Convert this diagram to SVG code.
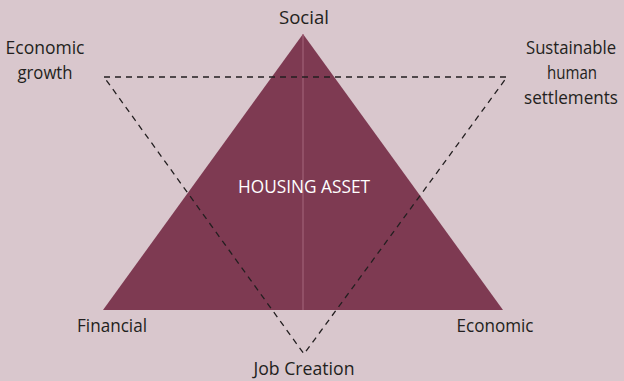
<svg xmlns="http://www.w3.org/2000/svg" width="624" height="381" viewBox="0 0 624 381">
<style>
.lbl{font-family:"Open Sans","Noto Sans","Liberation Sans",sans-serif;font-size:18px;fill:#231f20;text-anchor:middle}
.in{fill:#ffffff}
.dash{fill:none;stroke:#231f20;stroke-width:1.3;stroke-dasharray:6 5}
</style>
<rect width="624" height="381" fill="#d9c7cd"/>
<g id="housing">
<polygon points="303,34 103,310 503,310" fill="#7e3a52"/>
<line x1="303" y1="34" x2="303" y2="310" stroke="#a5677d" stroke-width="1"/>
<text class="lbl in" x="304" y="193" textLength="132" lengthAdjust="spacingAndGlyphs">HOUSING ASSET</text>
</g>
<g id="connectors">
<polygon class="dash" points="104,77 507,77 304,354"/>
</g>
<g id="social"><text class="lbl" x="304" y="24" textLength="50" lengthAdjust="spacingAndGlyphs">Social</text></g>
<g id="econgrowth"><text class="lbl" x="45" y="54" textLength="79" lengthAdjust="spacingAndGlyphs">Economic</text><text class="lbl" x="45" y="79" textLength="55" lengthAdjust="spacingAndGlyphs">growth</text></g>
<g id="sustainable"><text class="lbl" x="571" y="54" textLength="90" lengthAdjust="spacingAndGlyphs">Sustainable</text><text class="lbl" x="572" y="79" textLength="50" lengthAdjust="spacingAndGlyphs">human</text><text class="lbl" x="571" y="104" textLength="94" lengthAdjust="spacingAndGlyphs">settlements</text></g>
<g id="financial"><text class="lbl" x="112" y="332" textLength="70" lengthAdjust="spacingAndGlyphs">Financial</text></g>
<g id="economic"><text class="lbl" x="495" y="332" textLength="77" lengthAdjust="spacingAndGlyphs">Economic</text></g>
<g id="jobcreation"><text class="lbl" x="304" y="375" textLength="101" lengthAdjust="spacingAndGlyphs">Job Creation</text></g>
</svg>
